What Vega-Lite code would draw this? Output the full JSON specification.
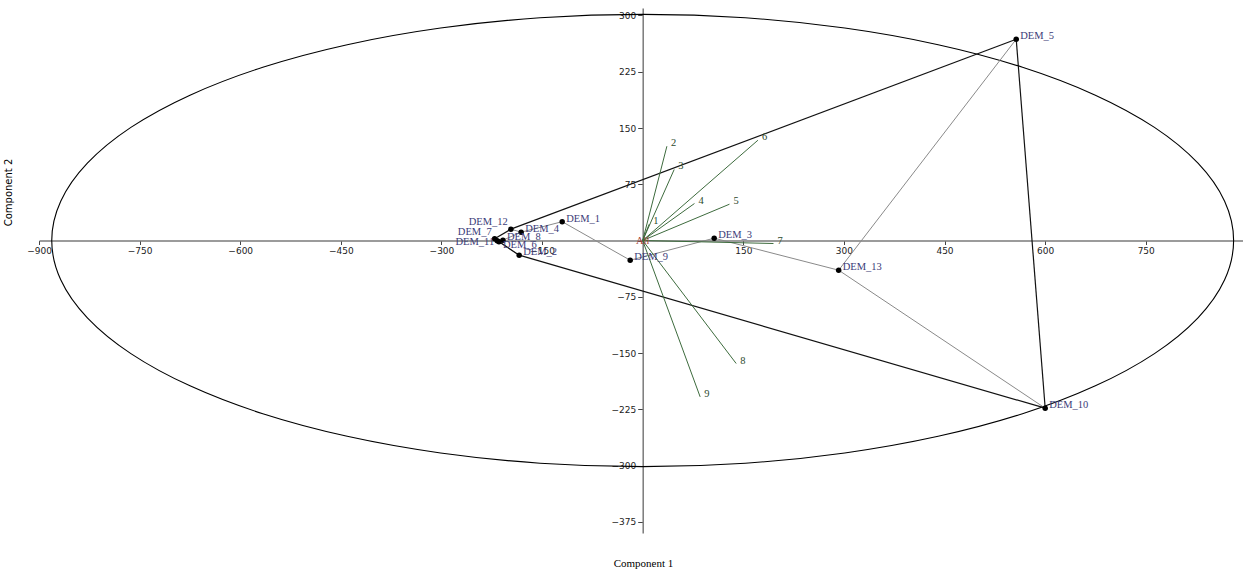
{
  "$schema": "https://vega.github.io/schema/vega-lite/v6.json",
  "width": 1204,
  "height": 525,
  "autosize": {"type": "none"},
  "padding": {"left": 39, "top": 8, "right": 0, "bottom": 39},
  "background": "white",
  "config": {
    "view": {"stroke": null},
    "axis": {
      "grid": false,
      "domainColor": "#7a7a7a",
      "domainWidth": 1.5,
      "tickColor": "#444444",
      "labelColor": "#222222",
      "labelFont": "DejaVu Sans",
      "labelFontSize": 9,
      "titleFontWeight": "normal",
      "titleColor": "#000000"
    }
  },
  "datasets": {
    "points": [
      {"name": "DEM_1", "x": -120.0, "y": 25.1},
      {"name": "DEM_2", "x": -184.1, "y": -19.6},
      {"name": "DEM_3", "x": 106.6, "y": 3.1},
      {"name": "DEM_4", "x": -181.2, "y": 11.1},
      {"name": "DEM_5", "x": 556.9, "y": 268.4},
      {"name": "DEM_6", "x": -214.3, "y": -1.6},
      {"name": "DEM_7", "x": -220.7, "y": 2.4},
      {"name": "DEM_8", "x": -208.3, "y": 0.4},
      {"name": "DEM_9", "x": -18.6, "y": -26.3},
      {"name": "DEM_10", "x": 600.1, "y": -223.6},
      {"name": "DEM_11", "x": -216.9, "y": -0.3},
      {"name": "DEM_12", "x": -196.5, "y": 15.1},
      {"name": "DEM_13", "x": 292.2, "y": -39.6}
    ],
    "segments": [
      {"from": "DEM_7", "to": "DEM_11", "kind": "mst", "x": -220.7, "y": 2.4, "xe": -216.9, "ye": -0.3},
      {"from": "DEM_11", "to": "DEM_6", "kind": "mst", "x": -216.9, "y": -0.3, "xe": -214.3, "ye": -1.6},
      {"from": "DEM_6", "to": "DEM_8", "kind": "mst", "x": -214.3, "y": -1.6, "xe": -208.3, "ye": 0.4},
      {"from": "DEM_8", "to": "DEM_4", "kind": "mst", "x": -208.3, "y": 0.4, "xe": -181.2, "ye": 11.1},
      {"from": "DEM_6", "to": "DEM_2", "kind": "mst", "x": -214.3, "y": -1.6, "xe": -184.1, "ye": -19.6},
      {"from": "DEM_4", "to": "DEM_12", "kind": "mst", "x": -181.2, "y": 11.1, "xe": -196.5, "ye": 15.1},
      {"from": "DEM_4", "to": "DEM_1", "kind": "mst", "x": -181.2, "y": 11.1, "xe": -120.0, "ye": 25.1},
      {"from": "DEM_1", "to": "DEM_9", "kind": "mst", "x": -120.0, "y": 25.1, "xe": -18.6, "ye": -26.3},
      {"from": "DEM_9", "to": "DEM_3", "kind": "mst", "x": -18.6, "y": -26.3, "xe": 106.6, "ye": 3.1},
      {"from": "DEM_3", "to": "DEM_13", "kind": "mst", "x": 106.6, "y": 3.1, "xe": 292.2, "ye": -39.6},
      {"from": "DEM_13", "to": "DEM_10", "kind": "mst", "x": 292.2, "y": -39.6, "xe": 600.1, "ye": -223.6},
      {"from": "DEM_13", "to": "DEM_5", "kind": "mst", "x": 292.2, "y": -39.6, "xe": 556.9, "ye": 268.4},
      {"from": "DEM_12", "to": "DEM_5", "kind": "hull", "x": -196.5, "y": 15.1, "xe": 556.9, "ye": 268.4},
      {"from": "DEM_5", "to": "DEM_10", "kind": "hull", "x": 556.9, "y": 268.4, "xe": 600.1, "ye": -223.6},
      {"from": "DEM_10", "to": "DEM_2", "kind": "hull", "x": 600.1, "y": -223.6, "xe": -184.1, "ye": -19.6},
      {"from": "DEM_2", "to": "DEM_7", "kind": "hull", "x": -184.1, "y": -19.6, "xe": -220.7, "ye": 2.4},
      {"from": "DEM_7", "to": "DEM_12", "kind": "hull", "x": -220.7, "y": 2.4, "xe": -196.5, "ye": 15.1}
    ],
    "vectors": [
      {"var": "1", "ox": 0, "oy": 0, "x": 9.7, "y": 21.7},
      {"var": "2", "ox": 0, "oy": 0, "x": 36.1, "y": 125.7},
      {"var": "3", "ox": 0, "oy": 0, "x": 47.0, "y": 94.7},
      {"var": "4", "ox": 0, "oy": 0, "x": 77.2, "y": 49.3},
      {"var": "5", "ox": 0, "oy": 0, "x": 129.4, "y": 48.4},
      {"var": "6", "ox": 0, "oy": 0, "x": 171.8, "y": 133.7},
      {"var": "7", "ox": 0, "oy": 0, "x": 195.0, "y": -4.0},
      {"var": "8", "ox": 0, "oy": 0, "x": 139.4, "y": -164.0},
      {"var": "9", "ox": 0, "oy": 0, "x": 85.7, "y": -208.5}
    ],
    "ellipse": [
      {"i": 0, "x": 881, "y": 0},
      {"i": 1, "x": 867.6, "y": 52.4},
      {"i": 2, "x": 827.9, "y": 103.1},
      {"i": 3, "x": 763.0, "y": 150.8},
      {"i": 4, "x": 674.9, "y": 193.8},
      {"i": 5, "x": 566.3, "y": 231.0},
      {"i": 6, "x": 440.5, "y": 261.1},
      {"i": 7, "x": 301.3, "y": 283.3},
      {"i": 8, "x": 153.0, "y": 296.9},
      {"i": 9, "x": 0, "y": 301.5},
      {"i": 10, "x": -153.0, "y": 296.9},
      {"i": 11, "x": -301.3, "y": 283.3},
      {"i": 12, "x": -440.5, "y": 261.1},
      {"i": 13, "x": -566.3, "y": 231.0},
      {"i": 14, "x": -674.9, "y": 193.8},
      {"i": 15, "x": -763.0, "y": 150.8},
      {"i": 16, "x": -827.9, "y": 103.1},
      {"i": 17, "x": -867.6, "y": 52.4},
      {"i": 18, "x": -881, "y": 0},
      {"i": 19, "x": -867.6, "y": -52.4},
      {"i": 20, "x": -827.9, "y": -103.1},
      {"i": 21, "x": -763.0, "y": -150.8},
      {"i": 22, "x": -674.9, "y": -193.8},
      {"i": 23, "x": -566.3, "y": -231.0},
      {"i": 24, "x": -440.5, "y": -261.1},
      {"i": 25, "x": -301.3, "y": -283.3},
      {"i": 26, "x": -153.0, "y": -296.9},
      {"i": 27, "x": 0, "y": -301.5},
      {"i": 28, "x": 153.0, "y": -296.9},
      {"i": 29, "x": 301.3, "y": -283.3},
      {"i": 30, "x": 440.5, "y": -261.1},
      {"i": 31, "x": 566.3, "y": -231.0},
      {"i": 32, "x": 674.9, "y": -193.8},
      {"i": 33, "x": 763.0, "y": -150.8},
      {"i": 34, "x": 827.9, "y": -103.1},
      {"i": 35, "x": 867.6, "y": -52.4}
    ],
    "origin": [{"label": "All", "x": 0, "y": 0}]
  },
  "layer": [
    {
      "data": {"name": "ellipse"},
      "mark": {"type": "line", "interpolate": "cardinal-closed", "color": "#000000", "strokeWidth": 1.1},
      "encoding": {
        "x": {
          "field": "x", "type": "quantitative",
          "scale": {"domain": [-900, 895], "nice": false, "zero": false},
          "axis": {
            "title": "Component 1",
            "values": [-900, -750, -600, -450, -300, -150, 0, 150, 300, 450, 600, 750],
            "labelExpr": "datum.value == 0 ? '' : datum.label",
            "offset": -292.5,
            "tickSize": 4,
            "labelPadding": 2,
            "labelOverlap": false,
            "labelFlush": false,
            "titleFont": "Liberation Serif",
            "titleFontSize": 11,
            "titleX": 604,
            "titleY": 322.5,
            "titleAlign": "center",
            "titleBaseline": "middle"
          }
        },
        "y": {
          "field": "y", "type": "quantitative",
          "scale": {"domain": [-390, 310], "nice": false, "zero": false},
          "axis": {
            "title": "Component 2",
            "values": [-375, -300, -225, -150, -75, 0, 75, 150, 225, 300],
            "labelExpr": "datum.value == 0 ? '' : datum.label",
            "offset": -603.7,
            "tickSize": 5,
            "labelPadding": 2,
            "labelOverlap": false,
            "labelFlush": false,
            "titleFont": "DejaVu Sans",
            "titleFontSize": 10,
            "titleAngle": -90,
            "titleX": -634,
            "titleY": 184,
            "titleAlign": "center",
            "titleBaseline": "middle"
          }
        },
        "order": {"field": "i", "type": "quantitative"}
      }
    },
    {
      "data": {"name": "segments"},
      "transform": [{"filter": "datum.kind == 'mst'"}],
      "mark": {"type": "rule", "color": "#8a8a8a", "strokeWidth": 1},
      "encoding": {
        "x": {"field": "x", "type": "quantitative"},
        "y": {"field": "y", "type": "quantitative"},
        "x2": {"field": "xe"},
        "y2": {"field": "ye"}
      }
    },
    {
      "data": {"name": "segments"},
      "transform": [{"filter": "datum.kind == 'hull'"}],
      "mark": {"type": "rule", "color": "#111111", "strokeWidth": 1.2},
      "encoding": {
        "x": {"field": "x", "type": "quantitative"},
        "y": {"field": "y", "type": "quantitative"},
        "x2": {"field": "xe"},
        "y2": {"field": "ye"}
      }
    },
    {
      "data": {"name": "vectors"},
      "mark": {"type": "rule", "color": "#3d6b3d", "strokeWidth": 1},
      "encoding": {
        "x": {"field": "ox", "type": "quantitative"},
        "y": {"field": "oy", "type": "quantitative"},
        "x2": {"field": "x"},
        "y2": {"field": "y"}
      }
    },
    {
      "data": {"name": "vectors"},
      "mark": {"type": "text", "align": "left", "baseline": "middle", "dx": 4, "dy": -3, "font": "Liberation Serif", "fontSize": 10.5, "color": "#2c4a2c"},
      "encoding": {
        "x": {"field": "x", "type": "quantitative"},
        "y": {"field": "y", "type": "quantitative"},
        "text": {"field": "var", "type": "nominal"}
      }
    },
    {
      "data": {"name": "points"},
      "mark": {"type": "point", "filled": true, "shape": "circle", "size": 30, "color": "#000000", "opacity": 1},
      "encoding": {
        "x": {"field": "x", "type": "quantitative"},
        "y": {"field": "y", "type": "quantitative"}
      }
    },
    {
      "data": {"name": "points"},
      "transform": [{"filter": "datum.name != 'DEM_12' && datum.name != 'DEM_7' && datum.name != 'DEM_11' && datum.name != 'DEM_6'"}],
      "mark": {"type": "text", "align": "left", "baseline": "middle", "dx": 4, "dy": -3, "font": "Liberation Serif", "fontSize": 10.5, "color": "#3b3b78"},
      "encoding": {
        "x": {"field": "x", "type": "quantitative"},
        "y": {"field": "y", "type": "quantitative"},
        "text": {"field": "name", "type": "nominal"}
      }
    },
    {
      "data": {"name": "points"},
      "transform": [{"filter": "datum.name == 'DEM_6'"}],
      "mark": {"type": "text", "align": "left", "baseline": "middle", "dx": 4, "dy": 3, "font": "Liberation Serif", "fontSize": 10.5, "color": "#3b3b78"},
      "encoding": {
        "x": {"field": "x", "type": "quantitative"},
        "y": {"field": "y", "type": "quantitative"},
        "text": {"field": "name", "type": "nominal"}
      }
    },
    {
      "data": {"name": "points"},
      "transform": [{"filter": "datum.name == 'DEM_12' || datum.name == 'DEM_7'"}],
      "mark": {"type": "text", "align": "right", "baseline": "middle", "dx": -3, "dy": -7, "font": "Liberation Serif", "fontSize": 10.5, "color": "#3b3b78"},
      "encoding": {
        "x": {"field": "x", "type": "quantitative"},
        "y": {"field": "y", "type": "quantitative"},
        "text": {"field": "name", "type": "nominal"}
      }
    },
    {
      "data": {"name": "points"},
      "transform": [{"filter": "datum.name == 'DEM_11'"}],
      "mark": {"type": "text", "align": "right", "baseline": "middle", "dx": -3, "dy": 1, "font": "Liberation Serif", "fontSize": 10.5, "color": "#3b3b78"},
      "encoding": {
        "x": {"field": "x", "type": "quantitative"},
        "y": {"field": "y", "type": "quantitative"},
        "text": {"field": "name", "type": "nominal"}
      }
    },
    {
      "data": {"name": "origin"},
      "mark": {"type": "text", "align": "center", "baseline": "middle", "font": "Liberation Serif", "fontSize": 10.5, "color": "#a5443c"},
      "encoding": {
        "x": {"field": "x", "type": "quantitative"},
        "y": {"field": "y", "type": "quantitative"},
        "text": {"field": "label", "type": "nominal"}
      }
    }
  ]
}
